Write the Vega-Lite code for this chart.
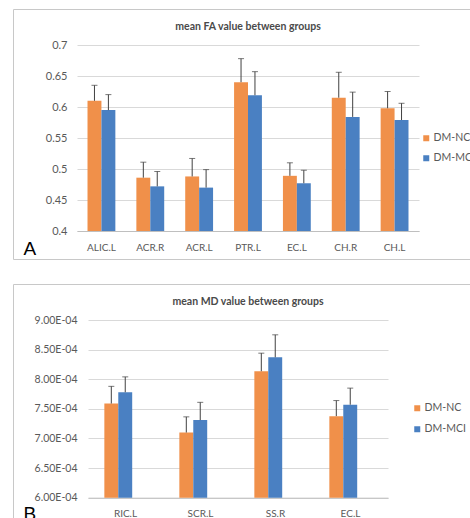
{
  "$schema": "https://vega.github.io/schema/vega-lite/v6.json",
  "padding": {"left": 12, "top": 8, "right": 0, "bottom": 0},
  "background": "white",
  "datasets": {
    "fa": [
      {"region": "ALIC.L", "group": "DM-NC", "mean": 0.610, "upper": 0.635},
      {"region": "ALIC.L", "group": "DM-MCI", "mean": 0.595, "upper": 0.620},
      {"region": "ACR.R", "group": "DM-NC", "mean": 0.486, "upper": 0.511},
      {"region": "ACR.R", "group": "DM-MCI", "mean": 0.472, "upper": 0.496},
      {"region": "ACR.L", "group": "DM-NC", "mean": 0.488, "upper": 0.517},
      {"region": "ACR.L", "group": "DM-MCI", "mean": 0.470, "upper": 0.499},
      {"region": "PTR.L", "group": "DM-NC", "mean": 0.640, "upper": 0.678},
      {"region": "PTR.L", "group": "DM-MCI", "mean": 0.619, "upper": 0.657},
      {"region": "EC.L", "group": "DM-NC", "mean": 0.489, "upper": 0.510},
      {"region": "EC.L", "group": "DM-MCI", "mean": 0.477, "upper": 0.498},
      {"region": "CH.R", "group": "DM-NC", "mean": 0.615, "upper": 0.656},
      {"region": "CH.R", "group": "DM-MCI", "mean": 0.584, "upper": 0.624},
      {"region": "CH.L", "group": "DM-NC", "mean": 0.598, "upper": 0.625},
      {"region": "CH.L", "group": "DM-MCI", "mean": 0.579, "upper": 0.606}
    ],
    "md": [
      {"region": "RIC.L", "group": "DM-NC", "mean": 0.000759, "upper": 0.000788},
      {"region": "RIC.L", "group": "DM-MCI", "mean": 0.000778, "upper": 0.000804},
      {"region": "SCR.L", "group": "DM-NC", "mean": 0.000710, "upper": 0.0007365},
      {"region": "SCR.L", "group": "DM-MCI", "mean": 0.000731, "upper": 0.000761},
      {"region": "SS.R", "group": "DM-NC", "mean": 0.0008135, "upper": 0.000844},
      {"region": "SS.R", "group": "DM-MCI", "mean": 0.000837, "upper": 0.000875},
      {"region": "EC.L", "group": "DM-NC", "mean": 0.0007377, "upper": 0.000764},
      {"region": "EC.L", "group": "DM-MCI", "mean": 0.000757, "upper": 0.000785}
    ]
  },
  "spacing": 23,
  "resolve": {"scale": {"color": "independent"}, "legend": {"color": "independent"}},
  "vconcat": [
    {
      "width": 470,
      "height": 250,
      "title": {"text": "mean FA value between groups", "offset": -28, "baseline": "middle", "anchor": "middle", "fontSize": 10.5, "fontWeight": "bold", "color": "#4a4a4a", "font": "Lato"},
      "data": {"name": "fa"},
      "encoding": {
        "x": {
          "field": "region", "type": "nominal", "sort": null,
          "scale": {"range": [64, 406], "paddingInner": 0.43, "paddingOuter": 0.215},
          "axis": {"offset": -28, "domain": true, "domainColor": "#bfbfbf", "ticks": false, "grid": false, "labelAngle": 0, "labelPadding": 11, "labelFontSize": 10, "labelColor": "#595959", "labelFont": "Lato",
            "title": "A", "titleX": 10, "titleY": 23, "titleAlign": "left", "titleBaseline": "alphabetic", "titleAnchor": null, "titleFontSize": 19, "titleFontWeight": "normal", "titleColor": "#000000", "titleFont": "Liberation Sans"}
        },
        "xOffset": {"field": "group", "type": "nominal", "sort": ["DM-NC", "DM-MCI"], "scale": {"paddingInner": 0, "paddingOuter": 0}}
      },
      "layer": [
        {
          "mark": {"type": "bar"},
          "encoding": {
            "y": {"field": "mean", "type": "quantitative",
              "scale": {"domain": [0.4, 0.7], "range": [222, 36], "nice": false, "zero": false},
              "axis": {"values": [0.4, 0.45, 0.5, 0.55, 0.6, 0.65, 0.7], "format": "~g", "offset": -64, "domain": false, "ticks": false, "grid": true, "gridColor": "#d9d9d9", "labelPadding": 10, "labelFontSize": 11, "labelColor": "#595959", "labelFont": "Lato", "title": null}},
            "y2": {"datum": 0.4},
            "color": {"field": "group", "type": "nominal",
              "scale": {"domain": ["DM-NC", "DM-MCI"], "range": ["#F0904A", "#4A80C2"]},
              "legend": {"orient": "none", "legendX": 408, "legendY": 124, "title": null, "symbolType": "square", "symbolSize": 36, "symbolStrokeWidth": 0, "labelFontSize": 10.5, "labelColor": "#595959", "labelFont": "Lato", "rowPadding": 9, "labelOffset": 2, "padding": 0}}
          }
        },
        {
          "mark": {"type": "rule", "color": "#404040", "strokeWidth": 1},
          "encoding": {"y": {"field": "mean", "type": "quantitative"}, "y2": {"field": "upper"}}
        },
        {
          "mark": {"type": "tick", "color": "#404040", "size": 6, "thickness": 1},
          "encoding": {"y": {"field": "upper", "type": "quantitative"}}
        }
      ]
    },
    {
      "width": 470,
      "height": 250,
      "title": {"text": "mean MD value between groups", "offset": -28, "baseline": "middle", "anchor": "middle", "fontSize": 10.5, "fontWeight": "bold", "color": "#4a4a4a", "font": "Lato"},
      "data": {"name": "md"},
      "encoding": {
        "x": {
          "field": "region", "type": "nominal", "sort": null,
          "scale": {"range": [75, 375], "paddingInner": 0.436, "paddingOuter": 0.218},
          "axis": {"offset": -36.3, "domain": true, "domainColor": "#bfbfbf", "ticks": false, "grid": false, "labelAngle": 0, "labelPadding": 11, "labelFontSize": 10, "labelColor": "#595959", "labelFont": "Lato",
            "title": "B", "titleX": 10, "titleY": 21.5, "titleAlign": "left", "titleBaseline": "alphabetic", "titleAnchor": null, "titleFontSize": 19, "titleFontWeight": "normal", "titleColor": "#000000", "titleFont": "Liberation Sans"}
        },
        "xOffset": {"field": "group", "type": "nominal", "sort": ["DM-NC", "DM-MCI"], "scale": {"paddingInner": 0, "paddingOuter": 0}}
      },
      "layer": [
        {
          "mark": {"type": "bar"},
          "encoding": {
            "y": {"field": "mean", "type": "quantitative",
              "scale": {"domain": [0.0006, 0.0009], "range": [213.7, 36], "nice": false, "zero": false},
              "axis": {"values": [0.0006, 0.00065, 0.0007, 0.00075, 0.0008, 0.00085, 0.0009], "labelExpr": "upper(replace(format(datum.value, '.2e'), 'e-', 'e-0'))", "offset": -75, "domain": false, "ticks": false, "grid": true, "gridColor": "#d9d9d9", "labelPadding": 11, "labelFontSize": 10.5, "labelColor": "#595959", "labelFont": "Lato", "title": null}},
            "y2": {"datum": 0.0006},
            "color": {"field": "group", "type": "nominal",
              "scale": {"domain": ["DM-NC", "DM-MCI"], "range": ["#F0904A", "#4A80C2"]},
              "legend": {"orient": "none", "legendX": 399, "legendY": 119, "title": null, "symbolType": "square", "symbolSize": 36, "symbolStrokeWidth": 0, "labelFontSize": 10.5, "labelColor": "#595959", "labelFont": "Lato", "rowPadding": 10, "labelOffset": 2, "padding": 0}}
          }
        },
        {
          "mark": {"type": "rule", "color": "#404040", "strokeWidth": 1},
          "encoding": {"y": {"field": "mean", "type": "quantitative"}, "y2": {"field": "upper"}}
        },
        {
          "mark": {"type": "tick", "color": "#404040", "size": 6, "thickness": 1},
          "encoding": {"y": {"field": "upper", "type": "quantitative"}}
        }
      ]
    }
  ],
  "config": {
    "view": {"stroke": "#c8c8c8", "strokeWidth": 1, "fill": "white"},
    "font": "Lato"
  }
}
